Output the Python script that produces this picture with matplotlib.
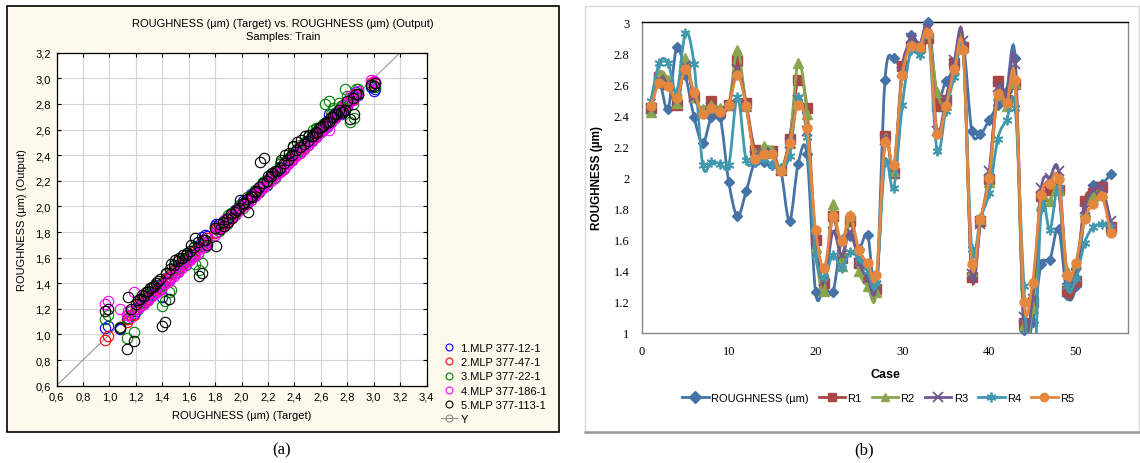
import matplotlib
matplotlib.use('Agg')
import matplotlib.pyplot as plt
from matplotlib.patches import Rectangle, PathPatch
from matplotlib.path import Path
from matplotlib.lines import Line2D
import numpy as np

W, H = 1140, 464

def fx(px):
    return px / W

def fy(py):
    return 1 - py / H

# ---------------- panel (a) data: target vs network output ----------------
target = [0.97, 0.99, 1.08, 1.13, 1.14, 1.19, 1.20, 1.23, 1.26, 1.29, 1.32, 1.35, 1.38, 1.40, 1.42, 1.45,
          1.47, 1.50, 1.53, 1.56, 1.59, 1.62, 1.65, 1.68, 1.70, 1.72, 1.81, 1.84, 1.87, 1.90, 1.93, 1.96,
          1.99, 2.02, 2.05, 2.08, 2.11, 2.14, 2.17, 2.20, 2.23, 2.27, 2.30, 2.33, 2.36, 2.39, 2.42, 2.45,
          2.48, 2.51, 2.54, 2.57, 2.60, 2.63, 2.66, 2.69, 2.72, 2.75, 2.78, 2.82, 2.85, 2.88, 3.00, 3.01,
          1.16, 1.22, 1.25, 1.28, 1.31, 1.34, 1.37, 1.43, 1.46, 1.49, 1.52, 1.55, 1.58, 1.61, 1.64, 1.67,
          1.71, 1.74, 1.80, 1.83, 1.86, 1.89, 1.92, 1.95, 1.98, 2.01, 2.04, 2.07, 2.10, 2.13, 2.16, 2.19,
          2.22, 2.25, 2.29, 2.32, 2.35, 2.38, 2.41, 2.44, 2.47, 2.50, 2.53, 2.56, 2.59, 2.62, 2.65, 2.68,
          2.71, 2.74, 2.77, 2.80, 2.84, 2.87, 2.98]
mlp_12 = [1.05, 1.07, 1.04, 1.12, 1.13, 1.16, 1.18, 1.22, 1.25, 1.30, 1.32, 1.34, 1.37, 1.29, 1.41, 1.44,
          1.48, 1.50, 1.52, 1.57, 1.58, 1.61, 1.66, 1.70, 1.76, 1.78, 1.86, 1.83, 1.87, 1.90, 1.92, 1.97,
          1.99, 2.03, 2.06, 2.09, 2.10, 2.14, 2.16, 2.21, 2.23, 2.26, 2.31, 2.33, 2.37, 2.39, 2.43, 2.45,
          2.48, 2.52, 2.54, 2.58, 2.59, 2.64, 2.72, 2.70, 2.73, 2.72, 2.76, 2.83, 2.86, 2.87, 2.90, 2.92,
          1.15, 1.21, 1.27, 1.27, 1.33, 1.33, 1.39, 1.44, 1.45, 1.50, 1.54, 1.54, 1.60, 1.62, 1.63, 1.69,
          1.72, 1.77, 1.85, 1.84, 1.85, 1.91, 1.91, 1.97, 1.99, 2.04, 2.03, 2.10, 2.12, 2.11, 2.18, 2.17,
          2.24, 2.23, 2.31, 2.30, 2.37, 2.36, 2.43, 2.42, 2.49, 2.48, 2.55, 2.54, 2.61, 2.60, 2.67, 2.66,
          2.73, 2.72, 2.79, 2.78, 2.86, 2.89, 2.93]
mlp_47 = [0.96, 0.99, 1.06, 1.10, 1.12, 1.15, 1.20, 1.22, 1.26, 1.28, 1.31, 1.35, 1.38, 1.40, 1.42, 1.45,
          1.47, 1.50, 1.53, 1.56, 1.59, 1.62, 1.65, 1.68, 1.70, 1.72, 1.82, 1.84, 1.86, 1.90, 1.93, 1.96,
          1.99, 2.02, 2.05, 2.08, 2.11, 2.14, 2.17, 2.20, 2.23, 2.27, 2.30, 2.33, 2.36, 2.39, 2.42, 2.45,
          2.48, 2.51, 2.54, 2.57, 2.60, 2.63, 2.66, 2.69, 2.72, 2.75, 2.78, 2.82, 2.85, 2.88, 2.97, 2.96,
          1.15, 1.23, 1.24, 1.29, 1.30, 1.35, 1.36, 1.44, 1.45, 1.50, 1.51, 1.56, 1.57, 1.62, 1.63, 1.68,
          1.70, 1.75, 1.79, 1.84, 1.85, 1.90, 1.91, 1.96, 1.97, 2.02, 2.03, 2.08, 2.09, 2.14, 2.15, 2.20,
          2.21, 2.26, 2.28, 2.33, 2.34, 2.39, 2.40, 2.45, 2.46, 2.51, 2.52, 2.57, 2.58, 2.63, 2.64, 2.69,
          2.70, 2.75, 2.76, 2.81, 2.83, 2.88, 2.96]
mlp_22 = [1.12, 1.15, 1.06, 0.97, 1.13, 1.02, 1.21, 1.22, 1.25, 1.27, 1.31, 1.34, 1.38, 1.22, 1.26, 1.33,
          1.35, 1.49, 1.52, 1.55, 1.60, 1.61, 1.55, 1.50, 1.56, 1.68, 1.80, 1.85, 1.88, 1.93, 1.94, 1.95,
          2.00, 2.03, 2.04, 2.07, 2.13, 2.15, 2.18, 2.19, 2.23, 2.25, 2.35, 2.34, 2.38, 2.46, 2.42, 2.43,
          2.50, 2.52, 2.60, 2.61, 2.58, 2.80, 2.82, 2.77, 2.74, 2.78, 2.92, 2.66, 2.69, 2.92, 2.94, 2.93,
          1.18, 1.20, 1.28, 1.26, 1.33, 1.32, 1.40, 1.47, 1.43, 1.52, 1.49, 1.58, 1.54, 1.60, 1.66, 1.63,
          1.69, 1.72, 1.83, 1.81, 1.88, 1.86, 1.95, 1.93, 2.01, 1.99, 2.07, 2.05, 2.13, 2.11, 2.19, 2.17,
          2.25, 2.22, 2.33, 2.29, 2.38, 2.41, 2.43, 2.48, 2.45, 2.54, 2.51, 2.61, 2.57, 2.64, 2.62, 2.72,
          2.69, 2.81, 2.79, 2.86, 2.80, 2.92, 2.95]
mlp_186 = [1.24, 1.26, 1.20, 1.15, 1.18, 1.33, 1.20, 1.22, 1.24, 1.27, 1.30, 1.32, 1.35, 1.37, 1.40, 1.42,
           1.45, 1.48, 1.50, 1.54, 1.57, 1.60, 1.63, 1.67, 1.72, 1.70, 1.80, 1.85, 1.89, 1.88, 1.94, 1.97,
           2.00, 2.02, 2.05, 2.07, 2.10, 2.15, 2.17, 2.20, 2.24, 2.25, 2.28, 2.31, 2.35, 2.38, 2.41, 2.45,
           2.47, 2.50, 2.53, 2.56, 2.59, 2.62, 2.60, 2.68, 2.71, 2.75, 2.80, 2.86, 2.88, 2.90, 2.98, 2.97,
           1.14, 1.21, 1.23, 1.26, 1.29, 1.32, 1.34, 1.40, 1.43, 1.46, 1.49, 1.52, 1.55, 1.58, 1.61, 1.64,
           1.68, 1.71, 1.78, 1.82, 1.84, 1.88, 1.91, 1.93, 1.97, 2.00, 2.02, 2.05, 2.08, 2.12, 2.14, 2.18,
           2.20, 2.23, 2.27, 2.30, 2.33, 2.36, 2.39, 2.42, 2.45, 2.48, 2.51, 2.54, 2.57, 2.60, 2.63, 2.66,
           2.69, 2.72, 2.75, 2.79, 2.83, 2.86, 2.99]
mlp_113 = [1.18, 1.20, 1.05, 0.89, 1.29, 0.95, 1.24, 1.28, 1.30, 1.34, 1.37, 1.40, 1.43, 1.07, 1.10, 1.28,
           1.55, 1.58, 1.60, 1.62, 1.64, 1.70, 1.75, 1.46, 1.48, 1.74, 1.69, 1.82, 1.85, 1.88, 1.91, 1.97,
           2.05, 2.02, 1.96, 2.07, 2.12, 2.35, 2.38, 2.24, 2.26, 2.28, 2.36, 2.40, 2.42, 2.47, 2.50, 2.52,
           2.55, 2.56, 2.55, 2.57, 2.62, 2.65, 2.66, 2.70, 2.72, 2.74, 2.75, 2.68, 2.72, 2.88, 2.94, 2.96,
           1.20, 1.27, 1.31, 1.33, 1.36, 1.38, 1.42, 1.48, 1.51, 1.54, 1.57, 1.60, 1.62, 1.65, 1.68, 1.72,
           1.74, 1.70, 1.83, 1.86, 1.88, 1.90, 1.94, 1.96, 1.99, 2.03, 2.06, 2.08, 2.11, 2.15, 2.18, 2.20,
           2.24, 2.28, 2.30, 2.34, 2.36, 2.40, 2.44, 2.46, 2.49, 2.51, 2.55, 2.58, 2.61, 2.63, 2.66, 2.70,
           2.72, 2.75, 2.74, 2.82, 2.85, 2.88, 2.95]
scatter_labels = ['1.MLP 377-12-1', '2.MLP 377-47-1', '3.MLP 377-22-1', '4.MLP 377-186-1', '5.MLP 377-113-1']
scatter_colors = ['#0000FF', '#FF0000', '#008000', '#FF00FF', '#000000']
a_ticks = [0.6, 0.8, 1.0, 1.2, 1.4, 1.6, 1.8, 2.0, 2.2, 2.4, 2.6, 2.8, 3.0, 3.2, 3.4]

# ---------------- panel (b) data: per case ----------------
cases = list(range(1, 55))
roughness = [2.47, 2.61, 2.44, 2.84, 2.66, 2.39, 2.22, 2.39, 2.39, 1.97, 1.75, 1.91, 2.10, 2.10, 2.08, 2.04,
             1.72, 2.09, 2.15, 1.26, 1.30, 1.26, 1.60, 1.62, 1.54, 1.63, 1.30, 2.63, 2.77, 2.70, 2.92, 2.85,
             3.00, 2.52, 2.62, 2.70, 2.86, 2.30, 2.28, 2.37, 2.47, 2.56, 2.77, 1.02, 1.07, 1.44, 1.47, 1.67,
             1.24, 1.30, 1.75, 1.95, 1.96, 2.02]
r1 = [2.45, 2.65, 2.60, 2.47, 2.72, 2.52, 2.43, 2.49, 2.43, 2.47, 2.75, 2.48, 2.18, 2.16, 2.17, 2.05,
      2.25, 2.63, 2.45, 1.60, 1.32, 1.75, 1.48, 1.72, 1.45, 1.35, 1.28, 2.27, 2.03, 2.72, 2.84, 2.84,
      2.90, 2.46, 2.50, 2.74, 2.84, 1.36, 1.72, 1.99, 2.62, 2.50, 2.60, 1.06, 1.20, 1.88, 1.92, 1.92,
      1.27, 1.33, 1.85, 1.90, 1.94, 1.68]
r2 = [2.42, 2.67, 2.63, 2.48, 2.77, 2.52, 2.44, 2.47, 2.45, 2.47, 2.82, 2.46, 2.16, 2.20, 2.18, 2.06,
      2.22, 2.74, 2.41, 1.55, 1.27, 1.83, 1.43, 1.76, 1.40, 1.30, 1.26, 2.25, 2.04, 2.68, 2.86, 2.85,
      2.93, 2.55, 2.47, 2.70, 2.84, 1.40, 1.73, 1.97, 2.53, 2.46, 2.61, 1.05, 1.16, 1.82, 1.85, 1.92,
      1.40, 1.45, 1.78, 1.88, 1.90, 1.67]
r3 = [2.44, 2.63, 2.60, 2.50, 2.72, 2.52, 2.42, 2.45, 2.42, 2.46, 2.70, 2.46, 2.14, 2.16, 2.16, 2.05,
      2.22, 2.50, 2.30, 1.60, 1.33, 1.65, 1.50, 1.65, 1.45, 1.35, 1.30, 2.24, 2.06, 2.68, 2.90, 2.86,
      2.96, 2.30, 2.50, 2.76, 2.88, 1.38, 1.70, 2.04, 2.58, 2.52, 2.73, 1.10, 1.22, 1.93, 2.00, 2.04,
      1.34, 1.38, 1.80, 1.92, 1.93, 1.72]
r4 = [2.49, 2.74, 2.74, 2.55, 2.93, 2.73, 2.08, 2.10, 2.09, 2.08, 2.52, 2.11, 2.10, 2.12, 2.08, 2.06,
      2.14, 2.52, 2.26, 1.50, 1.36, 1.50, 1.42, 1.52, 1.48, 1.40, 1.32, 2.10, 1.93, 2.47, 2.82, 2.79,
      2.92, 2.17, 2.43, 2.65, 2.82, 1.54, 1.74, 1.90, 2.25, 2.37, 2.45, 1.30, 0.50, 1.80, 1.66, 1.93,
      1.30, 1.35, 1.58, 1.68, 1.70, 1.68]
r5 = [2.46, 2.61, 2.59, 2.51, 2.70, 2.55, 2.41, 2.45, 2.42, 2.47, 2.66, 2.46, 2.12, 2.15, 2.15, 2.04,
      2.22, 2.47, 2.32, 1.66, 1.42, 1.75, 1.59, 1.75, 1.53, 1.45, 1.37, 2.23, 2.08, 2.66, 2.85, 2.84,
      2.93, 2.28, 2.46, 2.70, 2.82, 1.44, 1.73, 2.00, 2.54, 2.48, 2.63, 1.20, 1.32, 1.89, 1.96, 1.99,
      1.37, 1.45, 1.73, 1.83, 1.88, 1.64]
line_labels = ['ROUGHNESS (µm)', 'R1', 'R2', 'R3', 'R4', 'R5']
line_colors = ['#4572A7', '#AA4643', '#89A54E', '#71588F', '#4198AF', '#E3883E']
line_markers = ['D', 's', '^', 'x', (6, 2, 0), 'o']
b_yticks = [1, 1.2, 1.4, 1.6, 1.8, 2, 2.2, 2.4, 2.6, 2.8, 3]


def smooth_path(x, y):
    # Excel-like smoothed line (Catmull-Rom as cubic Bezier)
    pts = np.column_stack([x, y]).astype(float)
    n = len(pts)
    verts = [pts[0]]
    codes = [Path.MOVETO]
    for i in range(n - 1):
        p0 = pts[i - 1] if i > 0 else pts[i]
        p1, p2 = pts[i], pts[i + 1]
        p3 = pts[i + 2] if i + 2 < n else pts[i + 1]
        verts += [p1 + (p2 - p0) / 6, p2 - (p3 - p1) / 6, p2]
        codes += [Path.CURVE4] * 3
    return Path(verts, codes)


fig = plt.figure(figsize=(W / 100, H / 100), dpi=100)
fig.patch.set_facecolor('white')
sans = 'Liberation Sans'

# ---------------- panel (a) ----------------
fig.patches.append(Rectangle((fx(7), fy(433)), fx(552), 426 / H, transform=fig.transFigure,
                             facecolor='#FDF9EC', edgecolor='black', lw=1.2, zorder=-5))
ax1 = fig.add_axes([fx(56.5), fy(386.7), fx(370), 333 / H])
ax1.set_facecolor('white')
ax1.set_xlim(0.6, 3.4)
ax1.set_ylim(0.6, 3.2)
ax1.set_xticks(a_ticks)
ax1.set_yticks(a_ticks[:-1])
ax1.set_xticklabels([f'{v:.1f}'.replace('.', ',') for v in a_ticks], fontsize=8, family=sans)
ax1.set_yticklabels([f'{v:.1f}'.replace('.', ',') for v in a_ticks[:-1]], fontsize=8, family=sans)
ax1.tick_params(direction='in', length=3, width=0.8, top=True, right=True, pad=4)
ax1.grid(True, color='#D4D4D4', lw=0.8)
ax1.set_axisbelow(True)
for s in ax1.spines.values():
    s.set_color('black')
    s.set_linewidth(0.9)
ax1.plot([0.6, 3.4], [0.6, 3.4], color='#8C8C8C', lw=0.7, zorder=1)
for outs, col in zip([mlp_12, mlp_47, mlp_22, mlp_186, mlp_113], scatter_colors):
    ax1.plot(target, outs, 'o', mfc='none', mec=col, ms=7.5, mew=0.8, zorder=2)
ax1.set_xlabel('ROUGHNESS (µm) (Target)', fontsize=8, family=sans, labelpad=6)
ax1.set_ylabel('ROUGHNESS (µm) (Output)', fontsize=8, family=sans, labelpad=6)
fig.text(fx(283), fy(24), 'ROUGHNESS (µm) (Target) vs. ROUGHNESS (µm) (Output)', ha='center', va='center',
         fontsize=8, family=sans)
fig.text(fx(283), fy(37.5), 'Samples: Train', ha='center', va='center', fontsize=8, family=sans)

handles_a = [Line2D([], [], ls='none', marker='o', mfc='none', mec=c, ms=5, mew=0.8) for c in scatter_colors]
handles_a.append(Line2D([], [], color='#8C8C8C', lw=0.7, marker='o', mfc='none', mec='#8C8C8C', ms=5, mew=0.8))
fig.legend(handles_a, scatter_labels + ['Y'], loc='upper left', bbox_to_anchor=(fx(441), fy(344)),
           frameon=False, prop={'family': sans, 'size': 8}, handlelength=1.4, handletextpad=0.4,
           labelspacing=0.38, borderpad=0, borderaxespad=0)

# ---------------- panel (b) ----------------
fig.patches.append(Rectangle((fx(584.5), fy(432.7)), fx(1139 - 584.5), (432.7 - 7.3) / H,
                             transform=fig.transFigure, facecolor='white', edgecolor='#D9D9D9', lw=1, zorder=-5))
fig.lines.append(Line2D([fx(584.5), fx(1140)], [fy(432.7), fy(432.7)], transform=fig.transFigure,
                        color='#9A9A9A', lw=1.8, zorder=-4))
ax2 = fig.add_axes([fx(642), fy(333.7), fx(486), 310.4 / H])
ax2.set_xlim(0, 56)
ax2.set_ylim(1, 3)
ax2.set_xticks([0, 10, 20, 30, 40, 50])
ax2.set_yticks(b_yticks)
ax2.set_yticklabels([f'{v:g}' for v in b_yticks])
for lab in ax2.get_xticklabels() + ax2.get_yticklabels():
    lab.set_family('Liberation Serif')
    lab.set_fontsize(9)
ax2.tick_params(length=0, pad=9)
for k, s in ax2.spines.items():
    s.set_color('black' if k == 'top' else '#868686')
    s.set_linewidth(1)

series = [roughness, r1, r2, r3, r4, r5]
for i, (vals, col, mk) in enumerate(zip(series, line_colors, line_markers)):
    ax2.add_patch(PathPatch(smooth_path(cases, vals), fill=False, edgecolor=col, lw=2.0, zorder=3 + i))
    yv = np.ma.masked_less(np.array(vals), 1.0)
    if mk in ('x', (6, 2, 0)):
        ax2.plot(cases, yv, ls='none', marker=mk, ms=7, mec=col, mew=1.3, zorder=3 + i, clip_on=False)
    else:
        ax2.plot(cases, yv, ls='none', marker=mk, ms=6.5 if mk != 'D' else 5.5, mfc=col, mec=col,
                 zorder=3 + i, clip_on=False)

ax2.set_xlabel('Case', fontsize=9, family=sans, fontweight='bold', labelpad=8)
ax2.set_ylabel('ROUGHNESS (µm)', fontsize=8.5, family=sans, fontweight='bold', labelpad=8)

handles_b = []
for col, mk in zip(line_colors, line_markers):
    if mk in ('x', (6, 2, 0)):
        handles_b.append(Line2D([], [], color=col, lw=2, marker=mk, ms=7, mec=col, mew=1.3))
    else:
        handles_b.append(Line2D([], [], color=col, lw=2, marker=mk, ms=6, mfc=col, mec=col))
fig.legend(handles_b, line_labels, loc='center', bbox_to_anchor=(fx(878), fy(399)), ncol=6,
           frameon=False, prop={'family': sans, 'size': 8}, handlelength=2.4, handletextpad=0.2,
           columnspacing=0.9, borderpad=0)

# captions
fig.text(fx(282), fy(450), '(a)', ha='center', va='center', fontsize=12, family='Liberation Serif')
fig.text(fx(864), fy(450), '(b)', ha='center', va='center', fontsize=12, family='Liberation Serif')

fig.savefig('out.png', dpi=100)
